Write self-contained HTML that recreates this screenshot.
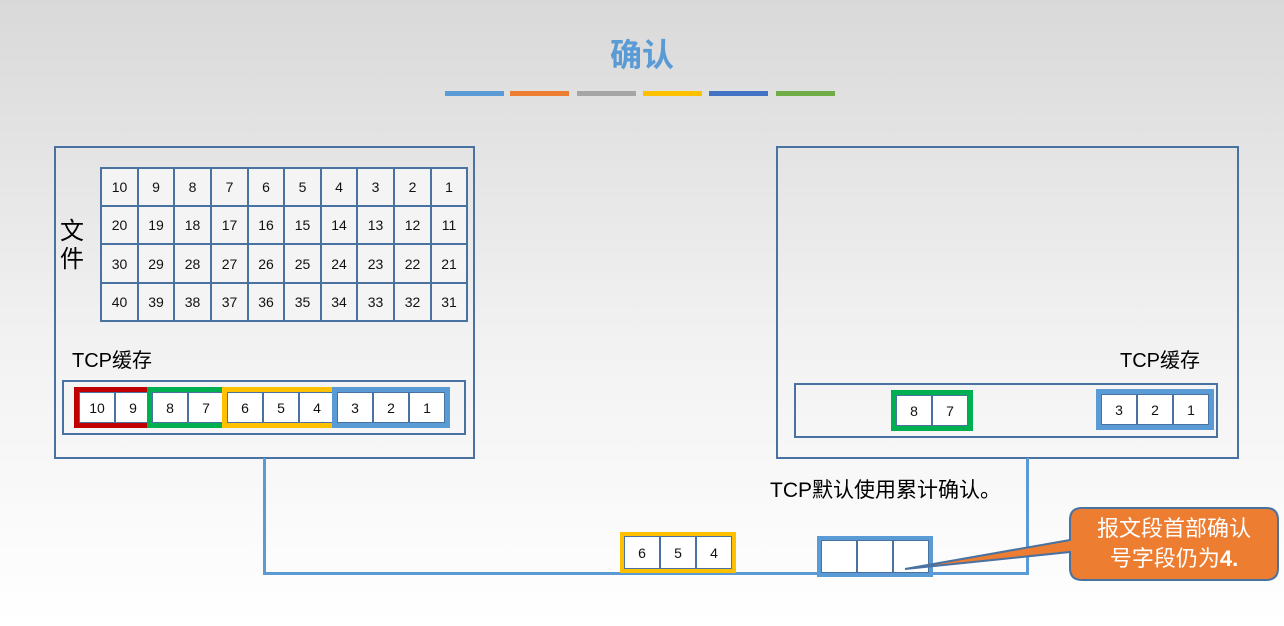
<!DOCTYPE html>
<html><head><meta charset="utf-8"><style>
body{margin:0;width:1284px;height:626px;overflow:hidden;background:linear-gradient(#d9d9d9 0%,#f2f2f2 55%,#fff 100%);font-family:"Liberation Sans","Noto Sans CJK SC",sans-serif;position:relative}
.a{position:absolute;box-sizing:border-box}
.c{position:absolute;box-sizing:border-box;border:2px solid #4a72a0;background:#f4f4f4;font-size:14px;display:flex;align-items:center;justify-content:center;color:#111}
.t{position:absolute;font-size:14px;display:flex;align-items:center;justify-content:center;color:#111;background:#fff}
.d{position:absolute;width:2px;background:#4a72a0}
</style></head><body>
<div class="a" style="left:0;top:30px;width:1284px;text-align:center;font-size:32px;font-weight:bold;color:#5b9bd5">确认</div>
<div class="a" style="left:445px;top:91px;width:59px;height:5px;background:#5b9bd5"></div>
<div class="a" style="left:510px;top:91px;width:59px;height:5px;background:#ed7d31"></div>
<div class="a" style="left:577px;top:91px;width:59px;height:5px;background:#a5a5a5"></div>
<div class="a" style="left:643px;top:91px;width:59px;height:5px;background:#ffc000"></div>
<div class="a" style="left:709px;top:91px;width:59px;height:5px;background:#4472c4"></div>
<div class="a" style="left:776px;top:91px;width:59px;height:5px;background:#70ad47"></div>

<div class="a" style="left:54px;top:146px;width:421px;height:313px;border:2px solid #4a72a0"></div>
<div class="a" style="left:776px;top:146px;width:463px;height:313px;border:2px solid #4a72a0"></div>
<div class="a" style="left:60px;top:218px;font-size:24px;line-height:28px;width:26px">文件</div>
<div id="g"></div>
<div class="a" style="left:72px;top:344px;font-size:20px">TCP缓存</div>
<div class="a" style="left:1120px;top:344px;font-size:20px">TCP缓存</div>
<div class="a" style="left:62px;top:380px;width:404px;height:55px;border:2px solid #4a72a0"></div>
<div class="a" style="left:794px;top:383px;width:424px;height:55px;border:2px solid #4a72a0"></div>

<div class="a" style="left:263px;top:458px;width:3px;height:117px;background:#5b9bd5"></div>
<div class="a" style="left:263px;top:572px;width:766px;height:3px;background:#5b9bd5"></div>
<div class="a" style="left:1026px;top:458px;width:3px;height:117px;background:#5b9bd5"></div>
<div class="a" style="left:770px;top:474px;font-size:21px">TCP默认使用累计确认。</div>
<div id="s"></div>
<svg class="a" style="left:0;top:0" width="1284" height="626">
<path d="M1088 508 H1266 Q1278 508 1278 520 V568 Q1278 580 1266 580 H1082 Q1070 580 1070 568 V552 L905 569 L1070 540 V520 Q1070 508 1082 508Z" fill="#ed7d31" stroke="#4a72a0" stroke-width="2"/>
</svg>
<div class="a" style="left:1070px;top:514px;width:208px;text-align:center;color:#fff;font-size:22px;line-height:30px">报文段首部确认<br>号字段仍为<b>4.</b></div>
<script>
var h='';
var xs=[100,137,173,210,247,283,320,356,393,430,466];
var ys=[167,205,243,282,320];
for(var r=0;r<4;r++)for(var c=0;c<10;c++){h+='<div class="c" style="left:'+xs[c]+'px;top:'+ys[r]+'px;width:'+(xs[c+1]-xs[c]+2)+'px;height:'+(ys[r+1]-ys[r]+2)+'px">'+(r*10+10-c)+'</div>';}
document.getElementById('g').outerHTML=h;
var s='';
function seg(x,y,n,lbl,col,bw){var cw=36;var H=41;
s+='<div class="a" style="left:'+x+'px;top:'+y+'px;width:'+(n*cw+bw*2)+'px;height:'+H+'px;border:'+bw+'px solid '+col+';background:#fff"></div>';
for(var i=0;i<n;i++){s+='<div class="t" style="left:'+(x+bw+i*cw)+'px;top:'+(y+bw)+'px;width:'+cw+'px;height:'+(H-2*bw)+'px">'+(lbl[i]||'')+'</div>';
if(i>0)s+='<div class="d" style="left:'+(x+bw+i*cw-1)+'px;top:'+(y+bw)+'px;height:'+(H-2*bw)+'px"></div>';}
s+='<div class="a" style="left:'+(x+bw)+'px;top:'+(y+bw)+'px;width:'+(n*cw)+'px;height:'+(H-2*bw)+'px;border:1px solid #4a72a0"></div>';}
seg(74,387,2,['10','9'],'#c00000',5);
seg(147,387,2,['8','7'],'#00b050',5);
seg(222,387,3,['6','5','4'],'#ffc000',5);
seg(332,387,3,['3','2','1'],'#5b9bd5',5);
seg(891,390,2,['8','7'],'#00b050',5);
seg(1096,389,3,['3','2','1'],'#5b9bd5',5);
seg(620,532,3,['6','5','4'],'#ffc000',4);
seg(817,536,3,['','',''],'#5b9bd5',4);
document.getElementById('s').outerHTML=s;
</script>
</body></html>
